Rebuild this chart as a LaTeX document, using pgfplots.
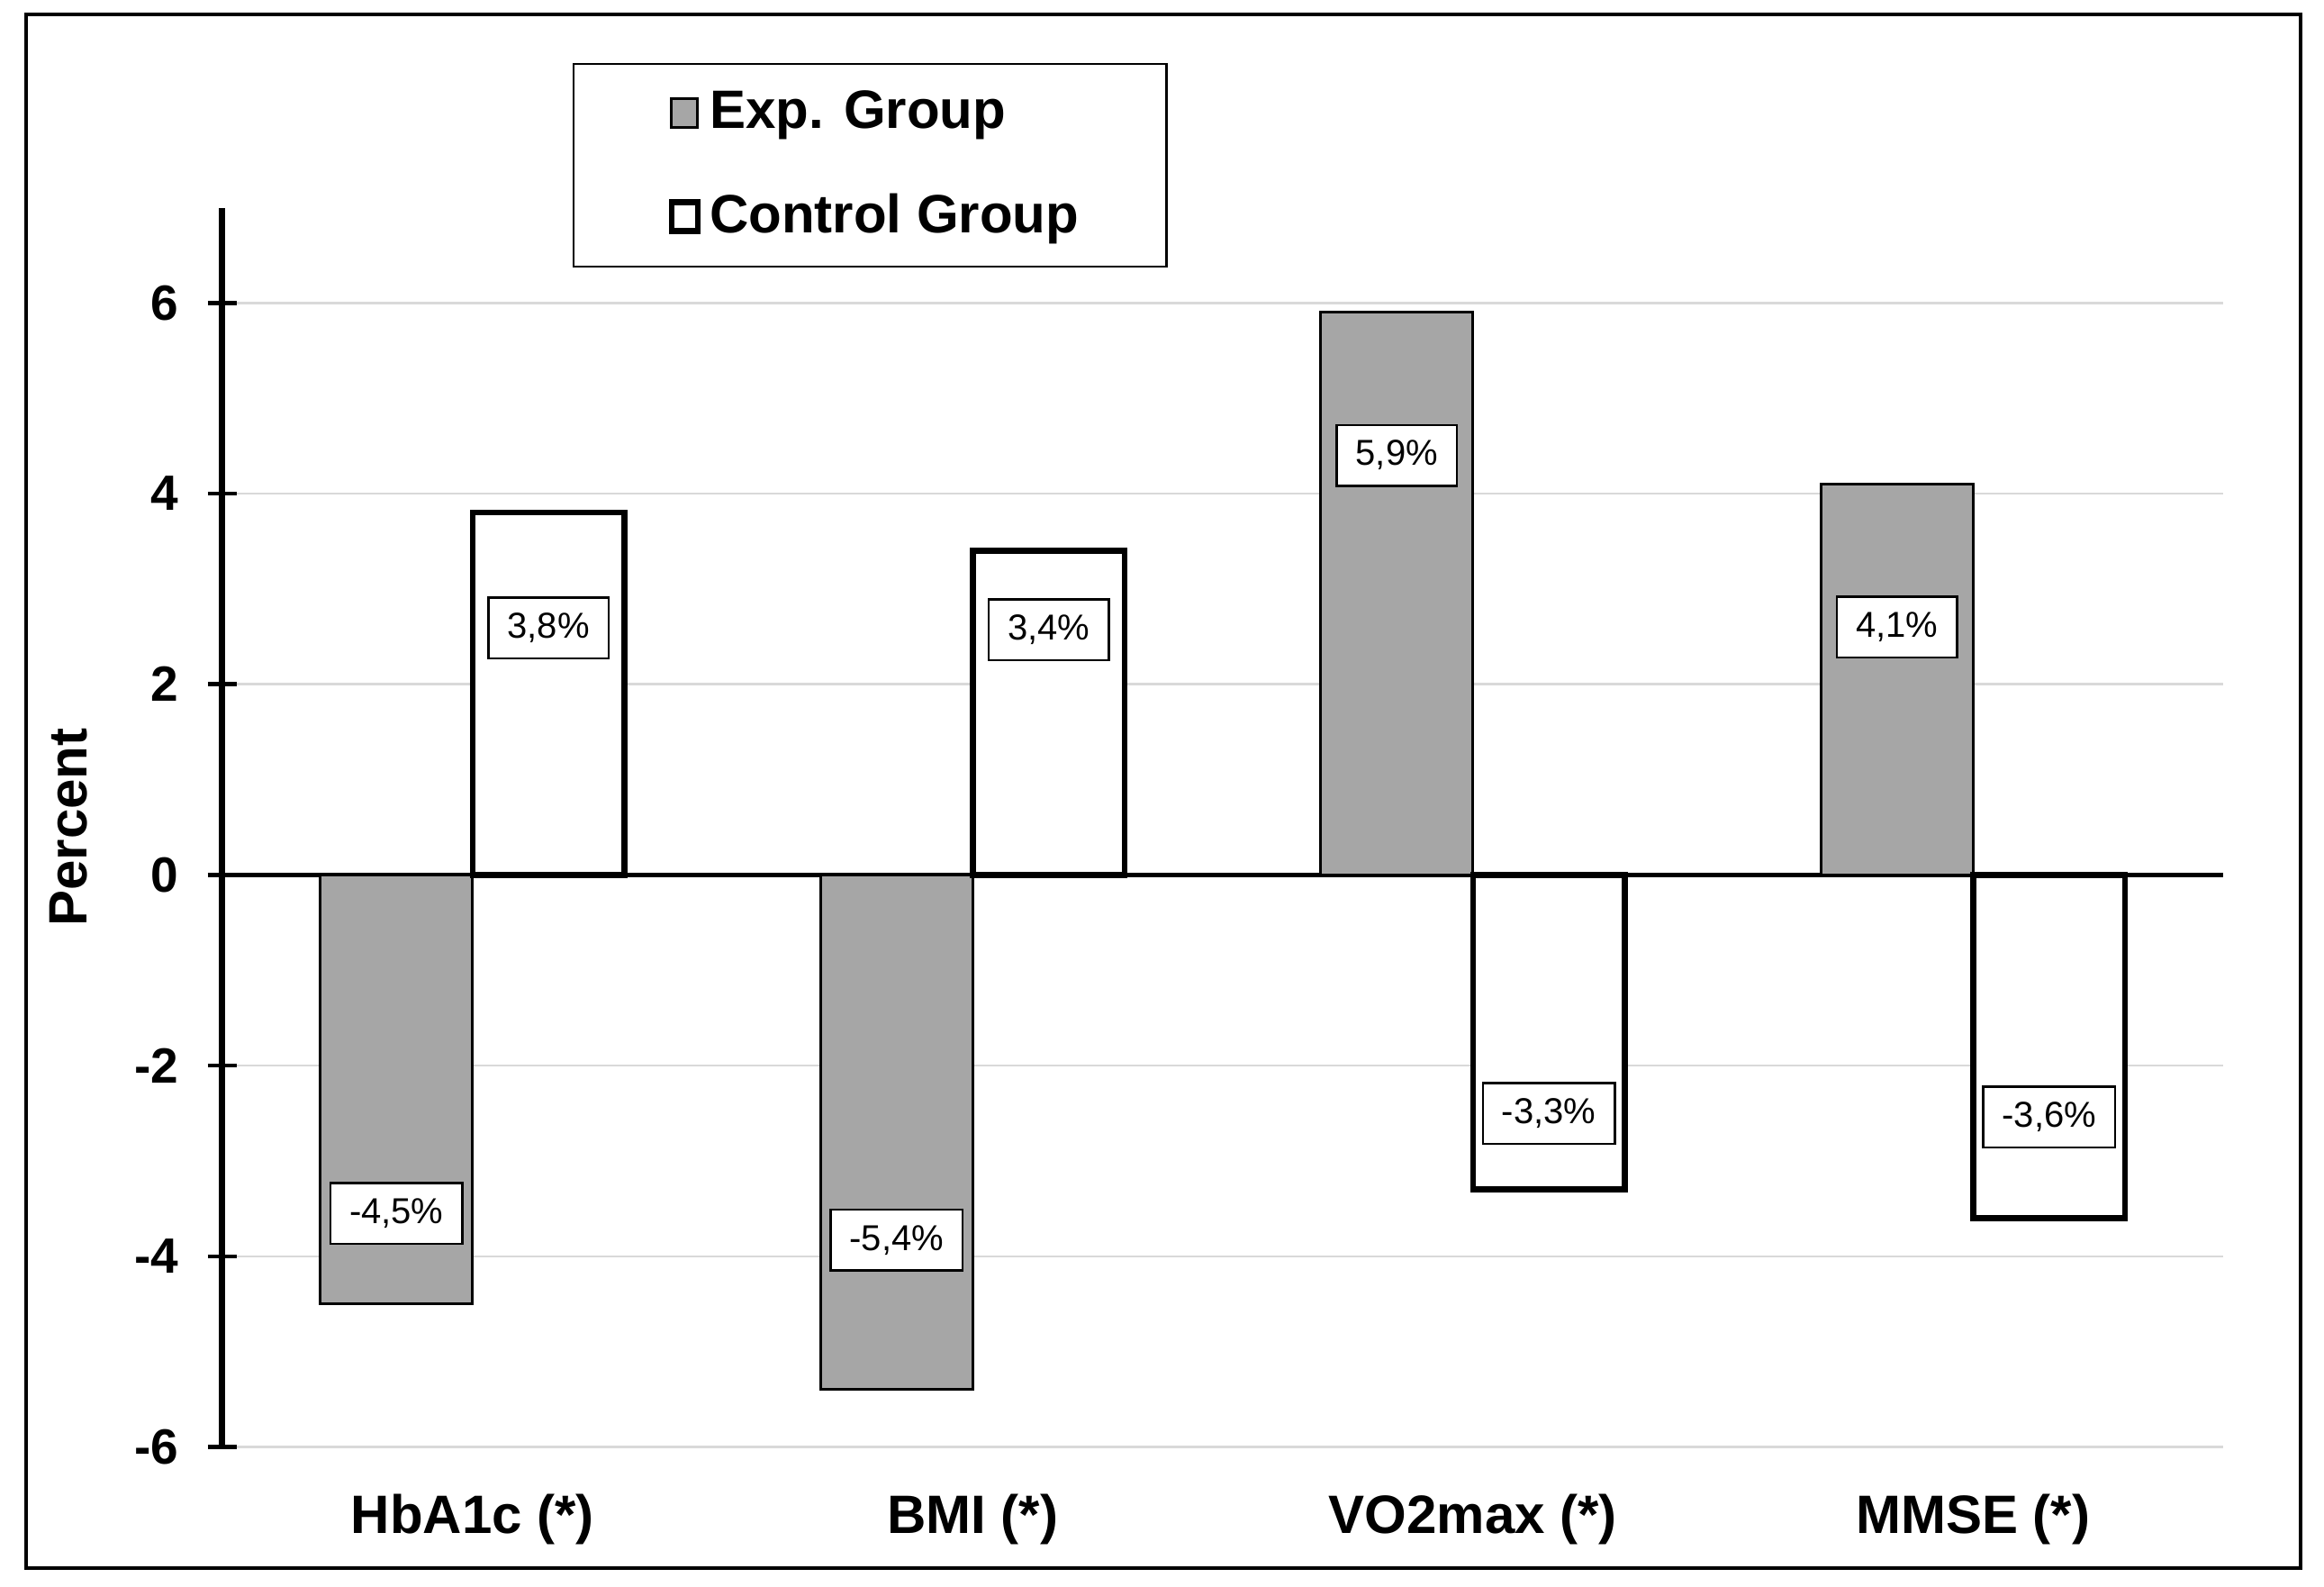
\documentclass[border=0pt]{standalone}
\usepackage{fontspec}
\setmainfont{Liberation Sans}
\usepackage{pgfplots}
\usepackage{pgfplotstable}
\pgfplotsset{compat=1.18}
\definecolor{barGray}{RGB}{166,166,166}
\definecolor{gridGray}{RGB}{217,217,217}

% x = category index, y = change in percent, ly = height of the value box
\pgfplotstableread{
x y ly
0 -4.5 -3.55
1 -5.4 -3.83
2 5.9 4.40
3 4.1 2.60
}\expdata
\pgfplotstableread{
x y ly
0 3.8 2.59
1 3.4 2.57
2 -3.3 -2.50
3 -3.6 -2.54
}\ctrldata

\pgfplotsset{
  valbox/.style={
    forget plot, draw=none, mark=none,
    point meta=\thisrow{y},
    nodes near coords={\pgfmathprintnumber[fixed, fixed zerofill, precision=1, use comma, assume math mode=true]{\pgfplotspointmeta}\%},
    every node near coord/.append style={anchor=center, draw=black, fill=white, line width=0.5pt,
      font=\fontsize{8}{9}\selectfont, inner xsep=4.2pt, inner ysep=3pt, text height=6pt, text depth=1.5pt},
  },
}

\begin{document}
\begin{tikzpicture}
\begin{axis}[
  name=ax,
  scale only axis,
  width=444.4pt, height=275.2pt,
  xmin=-0.5, xmax=3.5, ymin=-6, ymax=7,
  axis x line=bottom, axis y line=left,
  axis line style={-},
  x axis line style={draw=none},
  y axis line style={line width=1.4pt},
  xtick={0,1,2,3},
  xticklabels={HbA1c (*), BMI (*), VO2max (*), MMSE (*)},
  xtick style={draw=none},
  xticklabel style={font=\bfseries\fontsize{12}{14}\selectfont, yshift=-3.7pt},
  ytick={-6,-4,...,6},
  ytick style={black, line width=0.9pt},
  tick align=center,
  major tick length=6.4pt,
  yticklabel style={font=\bfseries\fontsize{11}{13}\selectfont, xshift=-3pt},
  /pgf/number format/assume math mode=true,
  ymajorgrids,
  major grid style={gridGray, line width=0.5pt},
  extra y ticks={0}, extra y tick labels={},
  extra y tick style={grid=major, major grid style={black, line width=0.9pt}},
  ylabel={Percent},
  every axis y label/.style={at={(axis description cs:-0.077,0.5)}, rotate=90, anchor=center,
    font=\bfseries\fontsize{12}{14}\selectfont},
  legend style={at={(0.175,1.117)}, anchor=north west, draw=black, line width=0.5pt,
    font=\bfseries\fontsize{12}{14}\selectfont, inner xsep=17.5pt, inner ysep=4pt, row sep=9pt},
  legend cell align=left,
  legend image code/.code={\path (0pt,0pt); \draw[#1] (3.6pt,-3.2pt) rectangle (9.4pt,3.2pt);},
]
\addplot[ybar, bar width=0.304, bar shift=-0.152, fill=barGray, draw=black, line width=0.6pt]
  table[x=x, y=y]{\expdata};
\addplot[ybar, bar width=0.304, bar shift=0.152, fill=white, draw=black, line width=1.3pt]
  table[x=x, y=y]{\ctrldata};
\legend{Exp. Group, Control Group}
\addplot[valbox] table[x expr=\thisrow{x}-0.152, y=ly]{\expdata};
\addplot[valbox] table[x expr=\thisrow{x}+0.152, y=ly]{\ctrldata};
\end{axis}
\draw[line width=0.8pt] ([shift={(-43.5pt,-27pt)}]ax.south west) rectangle ([shift={(461.5pt,318pt)}]ax.south west);
\path ([shift={(-49.4pt,-31.1pt)}]ax.south west) rectangle ([shift={(466.8pt,321.3pt)}]ax.south west);
\end{tikzpicture}
\end{document}
